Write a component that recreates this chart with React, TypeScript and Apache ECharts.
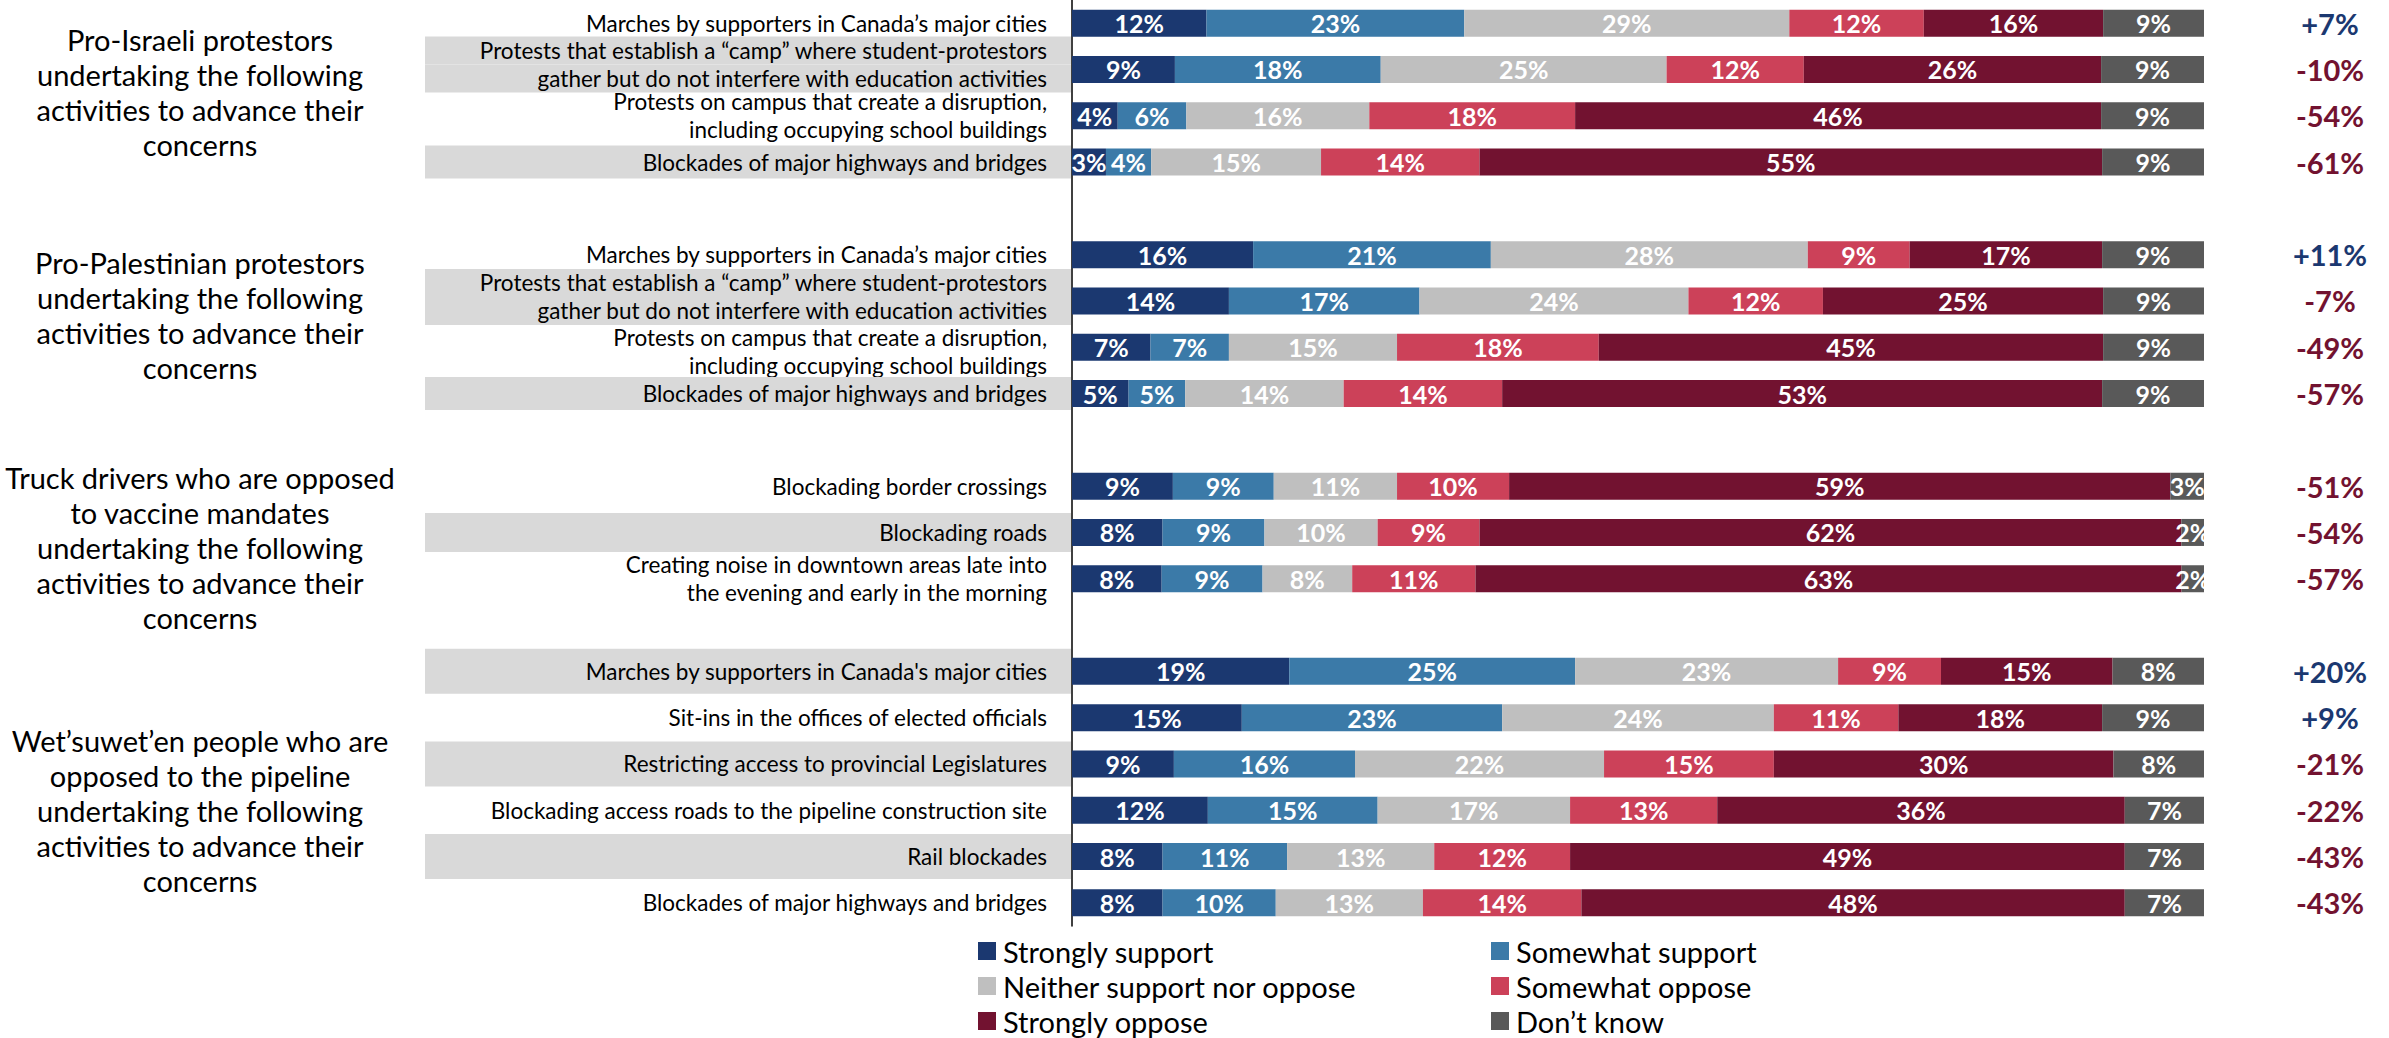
import React, { useEffect, useRef } from "react";
import * as echarts from "echarts";

const FONT = "Lato, 'Noto Sans', sans-serif";

const categories = [
  "Marches by supporters in Canada’s major cities",
  "Protests that establish a “camp” where student-protestors\ngather but do not interfere with education activities",
  "Protests on campus that create a disruption,\nincluding occupying school buildings",
  "Blockades of major highways and bridges",
  "",
  "Marches by supporters in Canada’s major cities",
  "Protests that establish a “camp” where student-protestors\ngather but do not interfere with education activities",
  "Protests on campus that create a disruption,\nincluding occupying school buildings",
  "Blockades of major highways and bridges",
  "",
  "Blockading border crossings",
  "Blockading roads",
  "Creating noise in downtown areas late into\nthe evening and early in the morning",
  "",
  "Marches by supporters in Canada's major cities",
  "Sit-ins in the offices of elected officials",
  "Restricting access to provincial Legislatures",
  "Blockading access roads to the pipeline construction site",
  "Rail blockades",
  "Blockades of major highways and bridges",
];

const stronglySupport = [12, 9, 4, 3, null, 16, 14, 7, 5, null, 9, 8, 8, null, 19, 15, 9, 12, 8, 8];
const somewhatSupport = [23, 18, 6, 4, null, 21, 17, 7, 5, null, 9, 9, 9, null, 25, 23, 16, 15, 11, 10];
const neitherNor = [29, 25, 16, 15, null, 28, 24, 15, 14, null, 11, 10, 8, null, 23, 24, 22, 17, 13, 13];
const somewhatOppose = [12, 12, 18, 14, null, 9, 12, 18, 14, null, 10, 9, 11, null, 9, 11, 15, 13, 12, 14];
const stronglyOppose = [16, 26, 46, 55, null, 17, 25, 45, 53, null, 59, 62, 63, null, 15, 18, 30, 36, 49, 48];
const dontKnow = [9, 9, 9, 9, null, 9, 9, 9, 9, null, 3, 2, 2, null, 8, 9, 8, 7, 7, 7];

const netScores = ["+7%", "-10%", "-54%", "-61%", "", "+11%", "-7%", "-49%", "-57%", "", "-51%", "-54%", "-57%", "", "+20%", "+9%", "-21%", "-22%", "-43%", "-43%"];

const shadedRows = [false, true, false, true, false, false, true, false, true, false, false, true, false, false, true, false, true, false, true, false];
const groupOfRow = [0, 0, 0, 0, -1, 1, 1, 1, 1, -1, 2, 2, 2, -1, 3, 3, 3, 3, 3, 3];

const groupLabels = [
  "Pro-Israeli protestors\nundertaking the following\nactivities to advance their\nconcerns",
  "Pro-Palestinian protestors\nundertaking the following\nactivities to advance their\nconcerns",
  "Truck drivers who are opposed\nto vaccine mandates\nundertaking the following\nactivities to advance their\nconcerns",
  "Wet’suwet’en people who are\nopposed to the pipeline\nundertaking the following\nactivities to advance their\nconcerns",
];

const seriesNames = [
  "Strongly support",
  "Somewhat support",
  "Neither support nor oppose",
  "Somewhat oppose",
  "Strongly oppose",
  "Don’t know",
];
const seriesValues = [stronglySupport, somewhatSupport, neitherNor, somewhatOppose, stronglyOppose, dontKnow];
const seriesColors = ["#1b3870", "#3b7aa8", "#bfbfbf", "#cc4159", "#721230", "#595959"];

const POS_COLOR = "#1b3870";
const NEG_COLOR = "#721230";

// layout constants (not data)
const singleBandHeight = [33, 33, 39, 45];
const groupCenters = [92, 315, 547, 810];
// vertical nudge of some two-line axis labels (px, + = down), by row index
const labelNudge: Record<number, number> = { 1: -5, 6: -4, 7: 4 };

export default function App() {
  const ref = useRef<HTMLDivElement>(null);

  useEffect(() => {
    if (!ref.current) return;
    const chart = echarts.init(ref.current, undefined, { renderer: "svg" });

    const rowSums = categories.map((_, i) =>
      seriesValues.reduce((s, arr) => s + (arr[i] == null ? 0 : (arr[i] as number)), 0)
    );

    const rich: Record<string, any> = {};
    [28, 33, 39, 45].forEach((lh) => {
      const base = {
        width: 622,
        height: lh,
        align: "right",
        verticalAlign: "middle",
        padding: [0, 24, 0, 0],
        lineHeight: lh,
        fontSize: 22.5,
        fontFamily: FONT,
        color: "#000",
      };
      rich["g" + lh] = { ...base, backgroundColor: "#d9d9d9" };
      rich["w" + lh] = { ...base };
    });
    [8, 10].forEach((h) => {
      rich["s" + h] = { fontSize: 1, lineHeight: h, height: h, width: 1 };
    });

    const series = seriesNames.map((name, si) => ({
      name,
      type: "bar",
      stack: "total",
      barWidth: 27,
      itemStyle: { color: seriesColors[si] },
      label: {
        show: true,
        position: "inside",
        color: "#fff",
        fontWeight: "bold",
        fontSize: 25,
        fontFamily: FONT,
        formatter: (p: any) => {
          const v = seriesValues[si][p.dataIndex];
          return v == null ? "" : v + "%";
        },
      },
      data: seriesValues[si].map((v, i) => (v == null ? null : (v / rowSums[i]) * 100)),
    }));

    const legendCommon = {
      orient: "vertical",
      top: 935,
      height: 200,
      padding: 0,
      itemWidth: 18,
      itemHeight: 18,
      itemGap: 3,
      icon: "rect",
      selectedMode: false,
      textStyle: { fontSize: 29, lineHeight: 32, color: "#000", fontFamily: FONT, padding: [0, 0, 0, 2] },
    };

    const option: any = {
      animation: false,
      backgroundColor: "#fff",
      textStyle: { fontFamily: FONT },
      grid: { left: 1072, right: 185, top: 0, bottom: 112, containLabel: false },
      xAxis: { type: "value", min: 0, max: 100, show: false },
      yAxis: [
        {
          type: "category",
          inverse: true,
          data: categories,
          axisLine: { show: true, lineStyle: { color: "#000", width: 1.5 } },
          axisTick: { show: false },
          axisLabel: {
            interval: 0,
            margin: 1,
            rich,
            formatter: (value: string, index: number) => {
              if (!value) return "";
              const lines = value.split("\n");
              const g = groupOfRow[index];
              const lh = lines.length > 1 ? 28 : singleBandHeight[g];
              const key = (shadedRows[index] ? "g" : "w") + lh;
              const body = lines.map((l) => `{${key}|${l}}`);
              const nudge = labelNudge[index];
              if (nudge) {
                const h = Math.abs(nudge) * 2;
                const spacer = `{s${h}| }`;
                if (nudge < 0) body.push(spacer);
                else body.unshift(spacer);
              }
              return body.join("\n");
            },
          },
        },
        {
          type: "category",
          inverse: true,
          position: "right",
          data: netScores,
          axisLine: { show: false },
          axisTick: { show: false },
          axisLabel: {
            interval: 0,
            margin: 126,
            align: "center",
            rich: {
              pos: { color: POS_COLOR, fontWeight: "bold", fontSize: 29, fontFamily: FONT },
              neg: { color: NEG_COLOR, fontWeight: "bold", fontSize: 29, fontFamily: FONT },
            },
            formatter: (v: string) => (!v ? "" : v.startsWith("+") ? `{pos|${v}}` : `{neg|${v}}`),
          },
        },
      ],
      legend: [
        { ...legendCommon, left: 978, data: [seriesNames[0], seriesNames[2], seriesNames[4]] },
        { ...legendCommon, left: 1491, data: [seriesNames[1], seriesNames[3], seriesNames[5]] },
      ],
      graphic: groupLabels.map((t, gi) => ({
        type: "text",
        x: 200,
        y: groupCenters[gi],
        style: {
          text: t,
          textAlign: "center",
          textVerticalAlign: "middle",
          fontSize: 29,
          lineHeight: 35,
          fontFamily: FONT,
          fill: "#000",
        },
      })),
      series,
    };

    chart.setOption(option);
    return () => chart.dispose();
  }, []);

  return (
    <div
      ref={ref}
      style={{ position: "fixed", left: 0, top: 0, width: 2389, height: 1038, background: "#fff" }}
    />
  );
}
